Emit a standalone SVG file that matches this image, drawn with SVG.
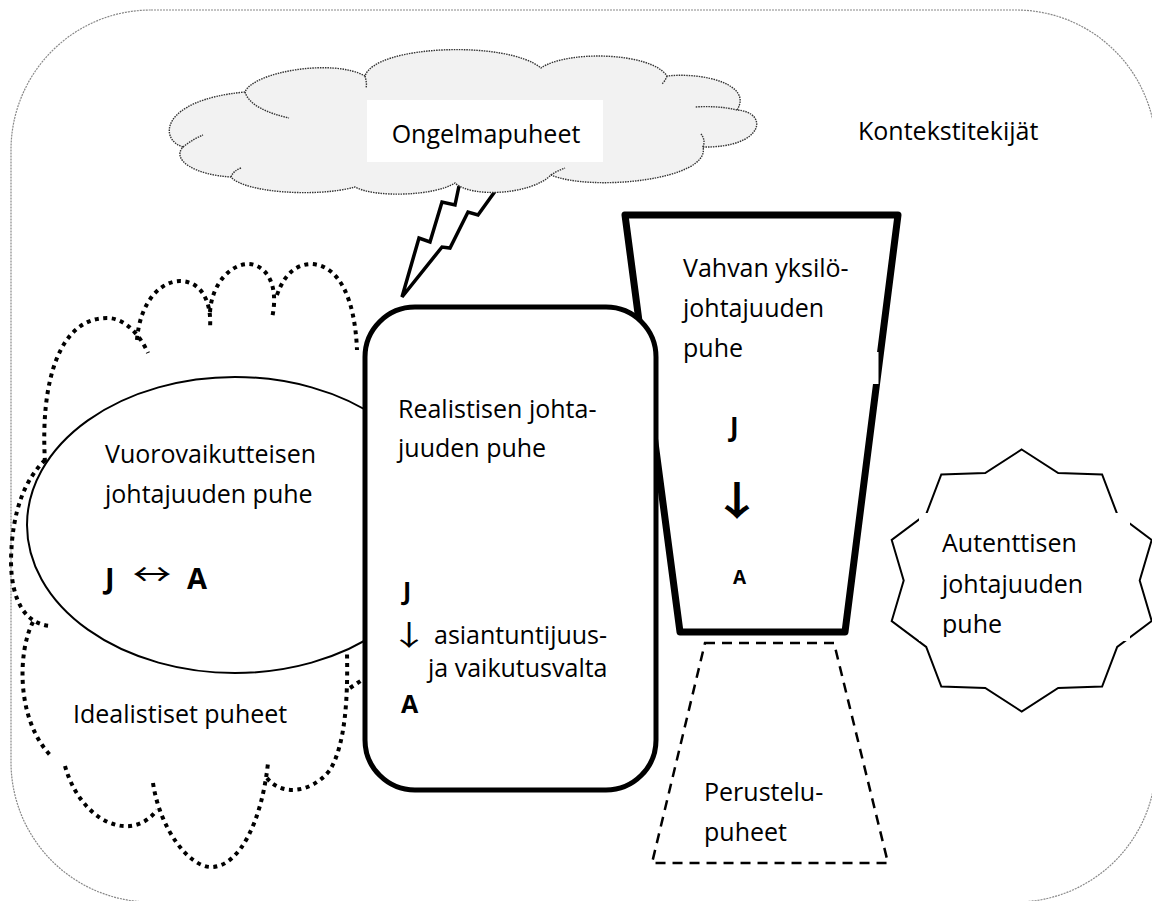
<svg xmlns="http://www.w3.org/2000/svg" width="1152" height="901" viewBox="0 0 1152 901">
<style>
.t{font-family:"Open Sans","Noto Sans",sans-serif;font-size:25px;fill:#000}
.b{font-family:"Open Sans","Noto Sans",sans-serif;font-weight:bold;fill:#000}
.ar{font-family:"Noto Sans CJK SC","DejaVu Sans",sans-serif;fill:#000;text-anchor:middle}
.dot{fill:none;stroke:#000;stroke-width:4;stroke-dasharray:4 4.5}
.cl{fill:#f2f2f2;stroke:#333;stroke-width:1.4;stroke-dasharray:1.5 1}
.cli{fill:none;stroke:#333;stroke-width:1.4;stroke-dasharray:1.5 1}
</style>
<defs>
<clipPath id="starclip"><rect x="919" y="513" width="211" height="124"/></clipPath>
</defs>

<g id="context">
<rect x="11" y="10" width="1145" height="892" rx="140" ry="140" fill="#fff" stroke="#888" stroke-width="1.2" stroke-dasharray="2 1"/>
<text class="t" x="858" y="140" font-size="24.5">Kontekstitekijät</text>
</g>

<g id="idealistic">
<path class="dot" d="M45,462 C40,380 60,318 107,318 C125,318 140,335 148,353"/>
<path class="dot" d="M137,340 C140,300 162,281 180,281 C200,281 212,300 210,328"/>
<path class="dot" d="M210,312 C212,282 232,264 248,264 C264,264 280,282 272,318"/>
<path class="dot" d="M277,295 C285,272 298,264 312,264 C340,266 355,300 357,350"/>
<path class="dot" d="M45,460 C25,480 12,510 11,560 C11,600 25,625 52,626"/>
<path class="dot" d="M33,622 C18,650 15,720 52,757"/>
<path class="dot" d="M65,766 C80,820 130,845 157,810"/>
<path class="dot" d="M153,783 C160,830 190,868 212,867 C240,866 262,820 268,763"/>
<path class="dot" d="M267,778 C280,795 310,795 330,770 C345,745 348,700 347,653"/>
<path class="dot" d="M350,688 L365,678"/>
<text class="t" x="73" y="723">Idealistiset puheet</text>
</g>

<g id="interactive">
<ellipse cx="235" cy="525" rx="208" ry="148" fill="#fff" stroke="#000" stroke-width="2"/>
<text class="t" x="105" y="463">Vuorovaikutteisen</text>
<text class="t" x="105" y="503">johtajuuden puhe</text>
<text class="b" x="105" y="589" font-size="29">J</text>
<text class="ar" transform="translate(152,585) scale(1.3,1)" x="0" y="0" font-size="30">↔</text>
<text class="b" x="187" y="589" font-size="29">A</text>
</g>

<g id="strong">
<polygon points="625,215 898,215 845,632 680,632" fill="#fff" stroke="#000" stroke-width="7" stroke-linejoin="round"/>
<rect x="840" y="352" width="38.5" height="32" fill="#fff"/>
<text class="t" x="683" y="277">Vahvan yksilö-</text>
<text class="t" x="683" y="317">johtajuuden</text>
<text class="t" x="683" y="357">puhe</text>
<text class="b" x="730" y="436" font-size="26">J</text>
<text class="ar" transform="translate(737,515) scale(1.3,1)" x="0" y="0" font-size="40" font-weight="bold">↓</text>
<text class="b" x="733" y="584" font-size="19">A</text>
</g>

<g id="realistic">
<rect x="365" y="307" width="291" height="483" rx="50" ry="50" fill="#fff" stroke="#000" stroke-width="5"/>
<text class="t" x="398" y="418">Realistisen johta-</text>
<text class="t" x="398" y="457">juuden puhe</text>
<text class="b" x="403" y="600" font-size="25">J</text>
<text class="ar" transform="translate(409,646) scale(1.4,1)" x="0" y="0" font-size="28">↓</text>
<text class="t" x="434" y="644" font-size="22">asiantuntijuus-</text>
<text class="t" x="428" y="677" font-size="22">ja vaikutusvalta</text>
<text class="b" x="401" y="713" font-size="25">A</text>
</g>

<g id="connectors">
<polyline points="459,186 455,205 442,202 430,242 419,238 402,297 442,247 450,248 468,212 478,215 496,190" fill="#fff" stroke="#000" stroke-width="3.5" stroke-linejoin="miter"/>
</g>

<g id="problems">
<path class="cl" d="M183,147 C159,140 159,100 245,92 C253,72 333,58 365,76 C375,45 507,40 541,68 C567,50 651,52 667,76 C705,72 753,85 737,110 C769,112 765,148 703,147 C711,180 591,192 551,175 C531,195 471,198 455,183 C435,196 375,198 355,187 C315,198 243,192 231,177 C195,175 171,160 183,147 Z"/>
<path class="cli" d="M245,92 C249,105 267,113 289,118"/>
<path class="cli" d="M183,147 C189,142 196,138 203,135"/>
<path class="cli" d="M737,110 C725,107 710,106 695,107"/>
<path class="cli" d="M703,147 C705,142 704,138 701,134"/>
<path class="cli" d="M551,175 C555,172 560,170 565,168"/>
<path class="cli" d="M231,177 C233,172 236,170 241,168"/>
<path class="cli" d="M365,76 C366,80 367,84 366,88"/>
<path class="cli" d="M667,76 C666,79 664,82 662,84"/>
<rect x="367" y="100" width="236" height="62" fill="#fff"/>
<text class="t" x="486" y="143" text-anchor="middle">Ongelmapuheet</text>
</g>

<g id="authentic">
<polygon points="1021.7,449.5 1058.2,473 1102.1,474.5 1117.2,514.1 1151.7,540 1139.7,580.5 1151.7,621 1117.2,646.9 1102.1,686.5 1058.2,688 1021.7,711.5 985.2,688 941.3,686.5 926.2,646.9 891.7,621 903.7,580.5 891.7,540 926.2,514.1 941.3,474.5 985.2,473" fill="#fff" stroke="#000" stroke-width="2"/>
<rect x="919" y="513" width="211" height="128" fill="#fff"/>
<g clip-path="url(#starclip)">
<text class="t" x="942" y="552">Autenttisen</text>
<text class="t" x="942" y="593">johtajuuden</text>
<text class="t" x="942" y="633">puhe</text>
</g>
</g>

<g id="justification">
<polygon points="705,643 834,643 888,863 652,863" fill="none" stroke="#000" stroke-width="2.5" stroke-dasharray="10 7"/>
<text class="t" x="704" y="801">Perustelu-</text>
<text class="t" x="704" y="841">puheet</text>
</g>
</svg>
